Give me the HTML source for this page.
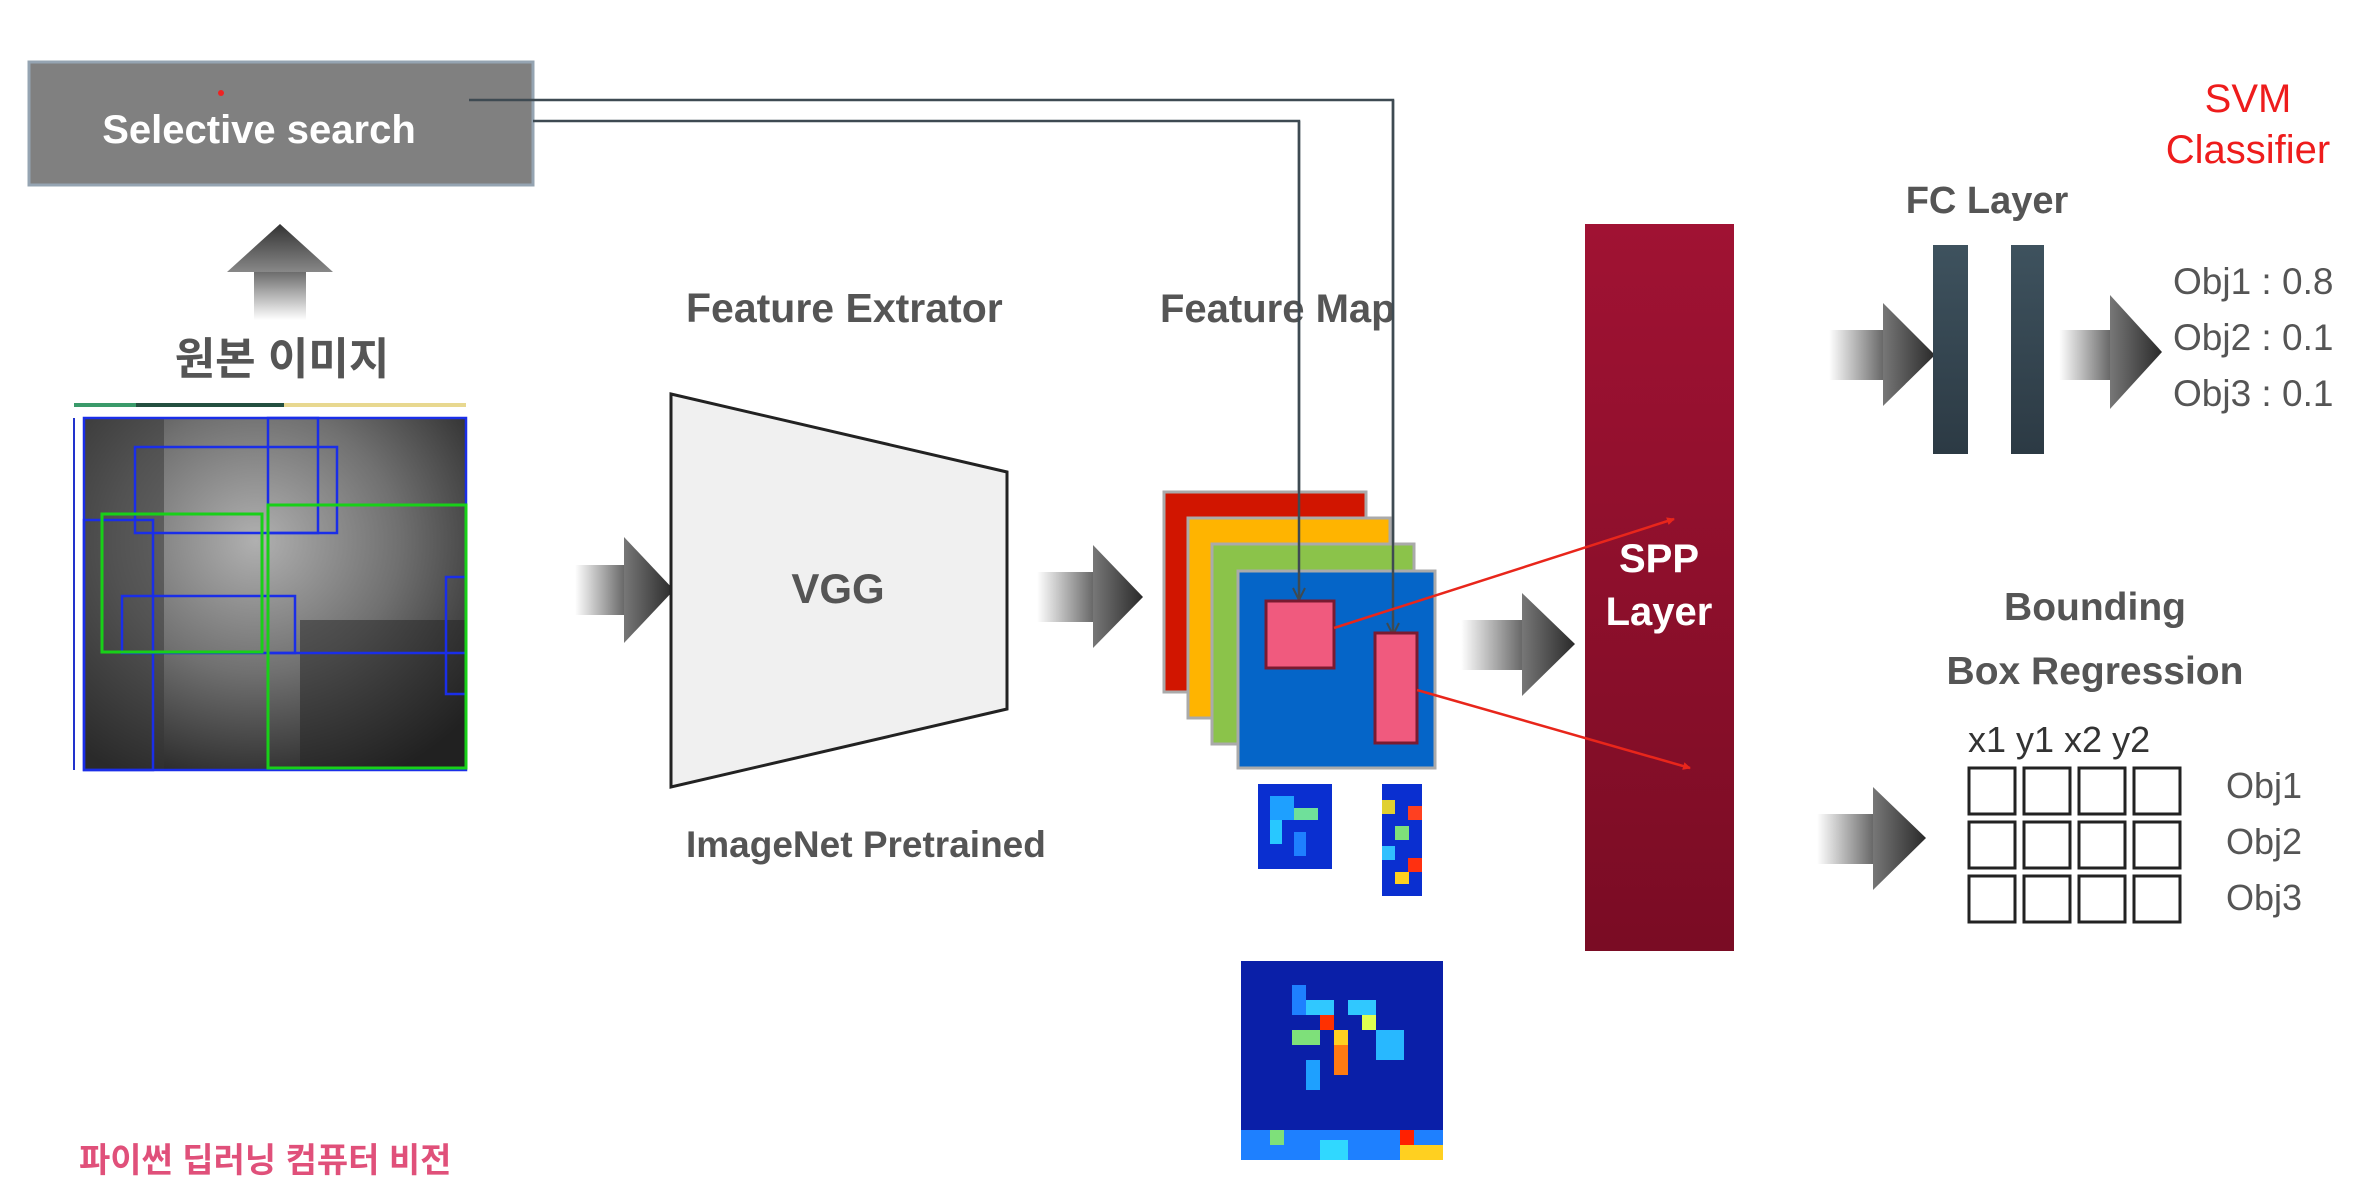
<!DOCTYPE html>
<html><head><meta charset="utf-8"><style>
html,body{margin:0;padding:0;background:#fff;}
svg{display:block;}
text{font-family:"Liberation Sans","Noto Sans CJK KR",sans-serif;}
</style></head><body>
<svg width="2374" height="1194" viewBox="0 0 2374 1194" xmlns="http://www.w3.org/2000/svg">
<defs>
<linearGradient id="tail" x1="0" y1="0" x2="1" y2="0"><stop offset="0" stop-color="#fff"/><stop offset="1" stop-color="#666"/></linearGradient>
<linearGradient id="head" x1="0" y1="0" x2="1" y2="0"><stop offset="0" stop-color="#777"/><stop offset="1" stop-color="#2a2a2a"/></linearGradient>
<linearGradient id="tailv" x1="0" y1="1" x2="0" y2="0"><stop offset="0" stop-color="#fff"/><stop offset="1" stop-color="#666"/></linearGradient>
<linearGradient id="headv" x1="0" y1="1" x2="0" y2="0"><stop offset="0" stop-color="#888"/><stop offset="1" stop-color="#333"/></linearGradient>
<linearGradient id="spp" x1="0" y1="0" x2="0" y2="1"><stop offset="0" stop-color="#a01233"/><stop offset="1" stop-color="#7a0c24"/></linearGradient>
<linearGradient id="fc" x1="0" y1="0" x2="0" y2="1"><stop offset="0" stop-color="#3e525e"/><stop offset="1" stop-color="#2c3a44"/></linearGradient>
<radialGradient id="photo" cx="0.45" cy="0.35" r="0.75"><stop offset="0" stop-color="#b0b0b0"/><stop offset="0.5" stop-color="#707070"/><stop offset="1" stop-color="#202020"/></radialGradient>
<marker id="ra" markerWidth="8" markerHeight="8" refX="7" refY="4" orient="auto" markerUnits="userSpaceOnUse" viewBox="0 0 8 8"><path d="M0,0 L8,4 L0,8 z" fill="#e8261b"/></marker>
</defs>

<!-- Selective search -->
<rect x="29" y="62" width="504" height="123" fill="#808080" stroke="#95a4b2" stroke-width="3"/>
<circle cx="221" cy="93" r="3" fill="#e22"/>
<text x="259" y="143" font-size="40" font-weight="bold" fill="#fff" text-anchor="middle">Selective search</text>

<!-- connector lines -->
<polyline points="469,100 1393,100 1393,633" fill="none" stroke="#3e4a52" stroke-width="2.5"/>
<polyline points="533,121 1299,121 1299,598" fill="none" stroke="#3e4a52" stroke-width="2.5"/>

<!-- up arrow -->
<rect x="254" y="270" width="52" height="50" fill="url(#tailv)"/>
<polygon points="227,272 280,224 333,272" fill="url(#headv)"/>
<text x="282" y="374" font-size="44" font-weight="bold" fill="#555" text-anchor="middle">원본 이미지</text>

<!-- photo -->
<rect x="74" y="403" width="62" height="4" fill="#3a9a6a"/><rect x="136" y="403" width="148" height="4" fill="#245040"/><rect x="284" y="403" width="182" height="4" fill="#e8d890"/>
<rect x="84" y="418" width="382" height="352" fill="url(#photo)"/>
<rect x="84" y="418" width="80" height="352" fill="#333" opacity="0.5"/>
<rect x="300" y="620" width="166" height="150" fill="#222" opacity="0.5"/>
<line x1="74" y1="418" x2="74" y2="770" stroke="#2233cc" stroke-width="2"/>
<g fill="none" stroke="#1a2ee8" stroke-width="2.5">
<rect x="84" y="418" width="382" height="352"/>
<rect x="135" y="447" width="202" height="86"/>
<rect x="268" y="418" width="50" height="115"/>
<rect x="84" y="520" width="69" height="250"/>
<rect x="122" y="596" width="173" height="57"/>
<line x1="268" y1="653" x2="466" y2="653"/>
<rect x="446" y="577" width="20" height="117"/>
</g>
<g fill="none" stroke="#18d018" stroke-width="3">
<rect x="102" y="514" width="160" height="138"/>
<rect x="268" y="505" width="198" height="263"/>
</g>

<!-- arrow 1 -->
<rect x="575" y="565" width="50" height="50" fill="url(#tail)"/>
<polygon points="624,537 674,590 624,643" fill="url(#head)"/>

<!-- VGG -->
<text x="686" y="322" font-size="41" font-weight="bold" fill="#555">Feature Extrator</text>
<polygon points="671,394 1007,472 1007,709 671,787" fill="#f0f0f0" stroke="#222" stroke-width="3"/>
<text x="838" y="603" font-size="42" font-weight="bold" fill="#555" text-anchor="middle">VGG</text>
<text x="686" y="857" font-size="37" font-weight="bold" fill="#555">ImageNet Pretrained</text>

<!-- arrow 2 -->
<rect x="1037" y="572" width="57" height="50" fill="url(#tail)"/>
<polygon points="1093,545 1143,597 1093,648" fill="url(#head)"/>

<!-- feature map -->
<text x="1160" y="322" font-size="40" font-weight="bold" fill="#555">Feature Map</text>
<rect x="1164" y="492" width="202" height="200" fill="#d11500" stroke="#aaa" stroke-width="3"/>
<rect x="1188" y="518" width="202" height="200" fill="#ffb400" stroke="#aaa" stroke-width="3"/>
<rect x="1212" y="544" width="202" height="200" fill="#8bc34a" stroke="#aaa" stroke-width="3"/>
<rect x="1238" y="571" width="197" height="197" fill="#0565c8" stroke="#aaa" stroke-width="3"/>
<line x1="1299" y1="121" x2="1299" y2="598" stroke="#3e4a52" stroke-width="2.5"/>
<line x1="1393" y1="100" x2="1393" y2="633" stroke="#3e4a52" stroke-width="2.5"/>
<path d="M1293,588 L1299,600 L1305,588" fill="none" stroke="#3e4a52" stroke-width="2"/>
<path d="M1387,623 L1393,635 L1399,623" fill="none" stroke="#3e4a52" stroke-width="2"/>
<rect x="1266" y="601" width="68" height="67" fill="#f05a7e" stroke="#7a1a30" stroke-width="3"/>
<rect x="1375" y="633" width="42" height="110" fill="#f05a7e" stroke="#7a1a30" stroke-width="3"/>

<!-- heatmaps -->
<g>
<rect x="1258" y="784" width="74" height="85" fill="#0a2fd0"/>
<rect x="1270" y="796" width="24" height="24" fill="#1ea0ff"/><rect x="1294" y="808" width="24" height="12" fill="#6fe09a"/>
<rect x="1270" y="820" width="12" height="24" fill="#28c8ff"/><rect x="1294" y="832" width="12" height="24" fill="#1e80ff"/>
<rect x="1382" y="784" width="40" height="112" fill="#0a2fd0"/>
<rect x="1382" y="800" width="13" height="14" fill="#e0d030"/><rect x="1408" y="806" width="14" height="14" fill="#ff4020"/>
<rect x="1395" y="826" width="14" height="14" fill="#7ee07a"/><rect x="1382" y="846" width="13" height="14" fill="#30c0ff"/>
<rect x="1408" y="858" width="14" height="14" fill="#ff3010"/><rect x="1395" y="872" width="14" height="12" fill="#ffd020"/>
<rect x="1241" y="961" width="202" height="199" fill="#0a1fa8"/>
<rect x="1292" y="985" width="14" height="30" fill="#1e80ff"/><rect x="1306" y="1000" width="28" height="15" fill="#30c8ff"/>
<rect x="1320" y="1015" width="14" height="15" fill="#ff3000"/><rect x="1334" y="1030" width="14" height="15" fill="#ffd020"/>
<rect x="1292" y="1030" width="28" height="15" fill="#7ee07a"/><rect x="1348" y="1000" width="28" height="15" fill="#30c8ff"/>
<rect x="1334" y="1045" width="14" height="30" fill="#ff7a10"/><rect x="1376" y="1030" width="28" height="30" fill="#28b8ff"/>
<rect x="1306" y="1060" width="14" height="30" fill="#1ea0ff"/><rect x="1362" y="1015" width="14" height="15" fill="#e0ff50"/>
<rect x="1241" y="1130" width="202" height="30" fill="#1e80ff"/>
<rect x="1270" y="1130" width="14" height="15" fill="#7ee07a"/><rect x="1320" y="1140" width="28" height="20" fill="#30d8ff"/>
<rect x="1400" y="1130" width="14" height="15" fill="#ff2000"/><rect x="1400" y="1145" width="43" height="15" fill="#ffd020"/>
</g>

<!-- arrow 3 -->
<rect x="1461" y="620" width="62" height="50" fill="url(#tail)"/>
<polygon points="1522,593 1575,644 1522,696" fill="url(#head)"/>

<!-- SPP -->
<rect x="1585" y="224" width="149" height="727" fill="url(#spp)"/>
<text x="1659" y="572" font-size="40" font-weight="bold" fill="#fff" text-anchor="middle">SPP</text>
<text x="1659" y="625" font-size="40" font-weight="bold" fill="#fff" text-anchor="middle">Layer</text>
<line x1="1334" y1="628" x2="1674" y2="519" stroke="#e8261b" stroke-width="2.5" marker-end="url(#ra)"/>
<line x1="1417" y1="690" x2="1690" y2="768" stroke="#e8261b" stroke-width="2.5" marker-end="url(#ra)"/>

<!-- FC -->
<text x="1987" y="213" font-size="38" font-weight="bold" fill="#555" text-anchor="middle">FC Layer</text>
<rect x="1829" y="330" width="55" height="50" fill="url(#tail)"/>
<polygon points="1883,303 1935,355 1883,406" fill="url(#head)"/>
<rect x="1933" y="245" width="35" height="209" fill="url(#fc)"/>
<rect x="2011" y="245" width="33" height="209" fill="url(#fc)"/>
<rect x="2059" y="330" width="52" height="50" fill="url(#tail)"/>
<polygon points="2110,295 2162,352 2110,409" fill="url(#head)"/>
<text x="2248" y="112" font-size="40" fill="#ee1c1c" text-anchor="middle">SVM</text>
<text x="2248" y="163" font-size="40" fill="#ee1c1c" text-anchor="middle">Classifier</text>
<text x="2173" y="294" font-size="37" fill="#555">Obj1 : 0.8</text>
<text x="2173" y="350" font-size="37" fill="#555">Obj2 : 0.1</text>
<text x="2173" y="406" font-size="37" fill="#555">Obj3 : 0.1</text>

<!-- Bounding box -->
<text x="2095" y="620" font-size="39" font-weight="bold" fill="#555" text-anchor="middle">Bounding</text>
<text x="2095" y="684" font-size="39" font-weight="bold" fill="#555" text-anchor="middle">Box Regression</text>
<text x="1968" y="752" font-size="36" fill="#333">x1 y1 x2 y2</text>
<g fill="none" stroke="#222" stroke-width="3">
<rect x="1969" y="768" width="46" height="46"/><rect x="2024" y="768" width="46" height="46"/><rect x="2079" y="768" width="46" height="46"/><rect x="2134" y="768" width="46" height="46"/>
<rect x="1969" y="822" width="46" height="46"/><rect x="2024" y="822" width="46" height="46"/><rect x="2079" y="822" width="46" height="46"/><rect x="2134" y="822" width="46" height="46"/>
<rect x="1969" y="876" width="46" height="46"/><rect x="2024" y="876" width="46" height="46"/><rect x="2079" y="876" width="46" height="46"/><rect x="2134" y="876" width="46" height="46"/>
</g>
<text x="2226" y="798" font-size="36" fill="#555">Obj1</text>
<text x="2226" y="854" font-size="36" fill="#555">Obj2</text>
<text x="2226" y="910" font-size="36" fill="#555">Obj3</text>
<rect x="1817" y="814" width="57" height="50" fill="url(#tail)"/>
<polygon points="1873,787 1926,838 1873,890" fill="url(#head)"/>

<text x="79" y="1172" font-size="34" font-weight="bold" fill="#e0507a">파이썬 딥러닝 컴퓨터 비전</text>
</svg>
</body></html>
